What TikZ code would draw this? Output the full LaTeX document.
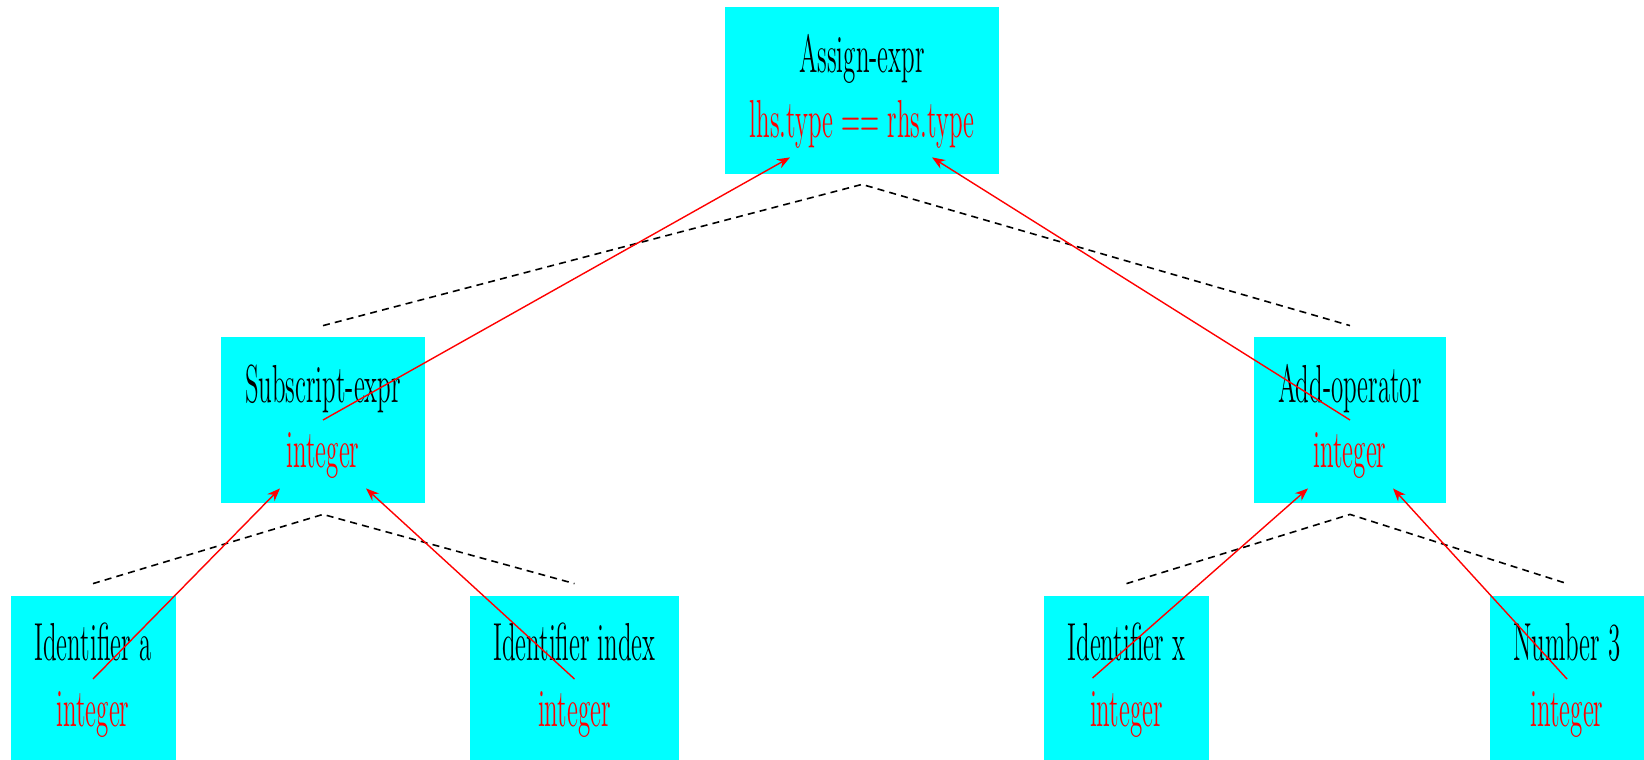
\documentclass[tikz,border=0pt]{standalone}
\usepackage{graphicx}
\usetikzlibrary{calc,arrows.meta}
\definecolor{boxcyan}{RGB}{0,255,255}
\definecolor{typered}{RGB}{255,0,0}
% tall, narrow lettering
\newcommand\tallText[1]{\scalebox{1}[2.14]{\fontsize{12.5}{14}\selectfont #1}}
\tikzset{
  astbox/.style={fill=boxcyan, draw=none, inner sep=0pt, rectangle},
  nametext/.style={anchor=base, inner sep=0pt, text=black},
  typetext/.style={anchor=base, inner sep=0pt, text=typered},
  treeline/.style={black, line width=0.8pt, dash pattern=on 3.5pt off 2.6pt},
  typeflow/.style={typered, line width=0.7pt, -{Stealth[length=6.5pt,width=5pt]}}
}
\begin{document}
\begin{tikzpicture}[x=0.5pt, y=-0.5pt]
\useasboundingbox (0,0) rectangle (1644,760);

% boxes of the syntax tree
\node[astbox, minimum width=137pt, minimum height=83.5pt] (assign) at (862,90.5) {};
\node[astbox, minimum width=102pt, minimum height=83pt] (sub) at (323,420) {};
\node[astbox, minimum width=96pt, minimum height=83pt] (add) at (1350,420) {};
\node[astbox, minimum width=82.5pt, minimum height=83pt] (ida) at (93,679) {};
\node[astbox, minimum width=104.5pt, minimum height=83pt] (idindex) at (574.5,679) {};
\node[astbox, minimum width=82.5pt, minimum height=83pt] (idx) at (1126.5,679) {};
\node[astbox, minimum width=78pt, minimum height=83pt] (num) at (1568,679) {};

% labels: node kind and attribute
\node[nametext] (assign-n) at (862,72) {\tallText{Assign-expr}};
\node[typetext] (assign-t) at (862,137) {\tallText{lhs.type == rhs.type}};
\node[nametext] (sub-n) at (323,402) {\tallText{Subscript-expr}};
\node[typetext] (sub-t) at (323,467) {\tallText{integer}};
\node[nametext] (add-n) at (1350,402) {\tallText{Add-operator}};
\node[typetext] (add-t) at (1350,467) {\tallText{integer}};
\node[nametext] (ida-n) at (93,660) {\tallText{Identifier a}};
\node[typetext] (ida-t) at (93,726) {\tallText{integer}};
\node[nametext] (idindex-n) at (574.5,660) {\tallText{Identifier index}};
\node[typetext] (idindex-t) at (574.5,726) {\tallText{integer}};
\node[nametext] (idx-n) at (1126.5,660) {\tallText{Identifier x}};
\node[typetext] (idx-t) at (1126.5,726) {\tallText{integer}};
\node[nametext] (num-n) at (1567,660) {\tallText{Number 3}};
\node[typetext] (num-t) at (1567,726) {\tallText{integer}};

% tree edges
\draw[treeline] ($(sub.north)+(0,-11)$) -- ($(assign.south)+(0,10)$) -- ($(add.north)+(0,-11)$);
\draw[treeline] ($(ida.north)+(0,-12)$) -- ($(sub.south)+(0,11)$) -- ($(idindex.north)+(0,-12)$);
\draw[treeline] ($(idx.north)+(0,-12)$) -- ($(add.south)+(0,11)$) -- ($(num.north)+(-1,-12)$);

% type propagation
\draw[typeflow] (sub.center) -- ($(assign.south)+(-72,-17)$);
\draw[typeflow] (add.center) -- ($(assign.south)+(70,-17)$);
\draw[typeflow] (ida.center) -- ($(sub.south)+(-43,-15)$);
\draw[typeflow] (idindex.center) -- ($(sub.south)+(43,-15)$);
\draw[typeflow] ($(idx.center)+(-34,-1)$) -- ($(add.south)+(-42,-15)$);
\draw[typeflow] ($(num.center)+(-1,0)$) -- ($(add.south)+(43,-15)$);
\end{tikzpicture}
\end{document}
